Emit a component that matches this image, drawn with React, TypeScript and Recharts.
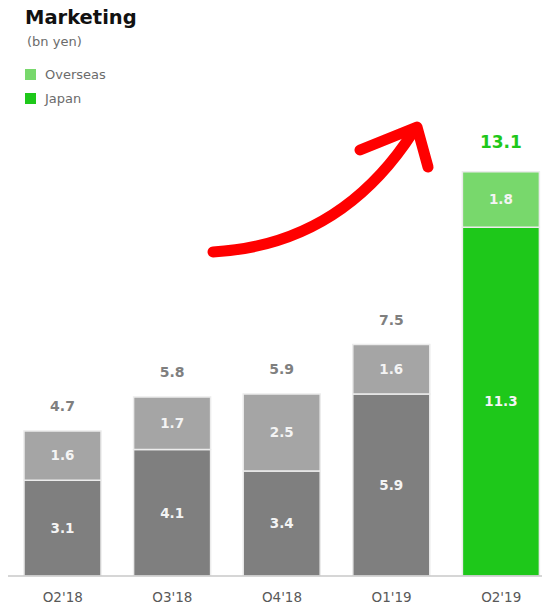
import { BarChart, Bar, XAxis, YAxis, Cell, LabelList } from "recharts";

const quarters = ["Q2'18", "Q3'18", "Q4'18", "Q1'19", "Q2'19"];
const japan = [3.1, 4.1, 3.4, 5.9, 11.3];
const overseas = [1.6, 1.7, 2.5, 1.6, 1.8];
const totals = [4.7, 5.8, 5.9, 7.5, 13.1];

const legendItems = [
  { name: "Overseas", color: "#78d86c" },
  { name: "Japan", color: "#1ec81a" },
];

const data = quarters.map((quarter, i) => ({
  quarter,
  japan: japan[i],
  overseas: overseas[i],
  total: totals[i],
}));

const FONT = "'DejaVu Sans', Verdana, sans-serif";
const lastIndex = quarters.length - 1;

const japanColor = (i: number) => (i === lastIndex ? "#1ec81a" : "#7f7f7f");
const overseasColor = (i: number) => (i === lastIndex ? "#78d86c" : "#a5a5a5");

function renderTotal(props: any) {
  const { x, y, width, index, value } = props;
  const highlight = index === lastIndex;
  return (
    <text
      x={x + width / 2}
      y={y - (highlight ? 30 : 25)}
      textAnchor="middle"
      dominantBaseline="central"
      fill={highlight ? "#1ec81a" : "#7f7f7f"}
      fontSize={highlight ? 17 : 14}
      fontWeight="bold"
      fontFamily={FONT}
    >
      {value}
    </text>
  );
}

const insideLabel = {
  position: "center" as const,
  fill: "#f4f4f4",
  fontSize: 13.5,
  fontWeight: "bold",
  fontFamily: FONT,
};

export default function App() {
  return (
    <div
      style={{
        position: "relative",
        width: 550,
        height: 610,
        margin: -8,
        overflow: "hidden",
        background: "#fff",
      }}
    >
      <div
        style={{
          position: "absolute",
          left: 25,
          top: 6,
          fontFamily: FONT,
          fontWeight: "bold",
          fontSize: 19.5,
          color: "#111",
        }}
      >
        Marketing
      </div>
      <div
        style={{
          position: "absolute",
          left: 27,
          top: 34,
          fontFamily: FONT,
          fontSize: 13,
          color: "#6b6b6b",
        }}
      >
        (bn yen)
      </div>
      {/* legend */}
      <div
        style={{
          position: "absolute",
          left: 25,
          top: 62,
          fontFamily: FONT,
          fontSize: 13,
          color: "#6b6b6b",
        }}
      >
        {legendItems.map((item) => (
          <div
            key={item.name}
            style={{ display: "flex", alignItems: "center", height: 24 }}
          >
            <span
              style={{
                width: 11,
                height: 11,
                background: item.color,
                marginRight: 9,
                display: "inline-block",
              }}
            />
            {item.name}
          </div>
        ))}
      </div>
      <BarChart
        width={556}
        height={610}
        data={data}
        margin={{ top: 144, right: 0, left: 8, bottom: 0 }}
        barSize={77}
      >
        <XAxis
          dataKey="quarter"
          axisLine={{ stroke: "#c8c8c8", strokeWidth: 1.5 }}
          tickLine={false}
          tickMargin={10}
          height={34}
          tick={{ fill: "#595959", fontSize: 13.5, fontFamily: FONT }}
        />
        <YAxis hide domain={[0, 14]} allowDataOverflow />
        <Bar
          dataKey="japan"
          stackId="a"
          stroke="#ececec"
          strokeWidth={1.5}
          isAnimationActive={false}
        >
          {data.map((_, i) => (
            <Cell key={`j-${i}`} fill={japanColor(i)} />
          ))}
          <LabelList dataKey="japan" {...insideLabel} />
        </Bar>
        <Bar
          dataKey="overseas"
          stackId="a"
          stroke="#ececec"
          strokeWidth={1.5}
          isAnimationActive={false}
        >
          {data.map((_, i) => (
            <Cell key={`o-${i}`} fill={overseasColor(i)} />
          ))}
          <LabelList dataKey="overseas" {...insideLabel} />
          <LabelList dataKey="total" content={renderTotal} />
        </Bar>
      </BarChart>
      <svg
        width={550}
        height={610}
        style={{ position: "absolute", left: 0, top: 0, pointerEvents: "none" }}
      >
        <path
          d="M 213 252 Q 340 245 413 132"
          fill="none"
          stroke="#ff0000"
          strokeWidth={11}
          strokeLinecap="round"
        />
        <polyline
          points="360,150 417,127 428,167"
          fill="none"
          stroke="#ff0000"
          strokeWidth={11}
          strokeLinecap="round"
          strokeLinejoin="round"
        />
      </svg>
    </div>
  );
}
